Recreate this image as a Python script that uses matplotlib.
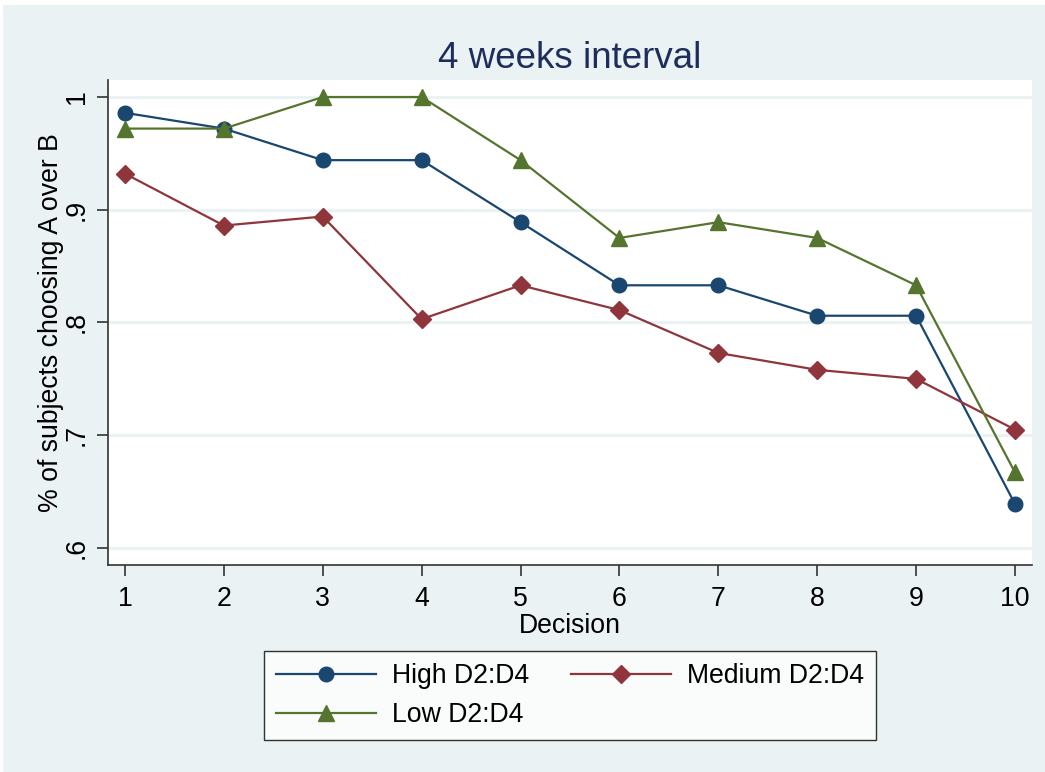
import matplotlib
matplotlib.use("Agg")
import matplotlib.pyplot as plt
from matplotlib.patches import Rectangle

plt.rcParams['font.family'] = ['Liberation Sans', 'DejaVu Sans']

decisions = [1, 2, 3, 4, 5, 6, 7, 8, 9, 10]
high = [0.986, 0.972, 0.944, 0.944, 0.889, 0.833, 0.833, 0.806, 0.806, 0.639]
medium = [0.932, 0.886, 0.894, 0.803, 0.833, 0.811, 0.773, 0.758, 0.750, 0.705]
low = [0.972, 0.972, 1.000, 1.000, 0.944, 0.875, 0.889, 0.875, 0.833, 0.667]
series_labels = ["High D2:D4", "Medium D2:D4", "Low D2:D4"]
yticks = [0.6, 0.7, 0.8, 0.9, 1.0]
ytick_labels = [".6", ".7", ".8", ".9", "1"]

BG = "#EAF2F3"
NAVY = "#1A476F"
MAROON = "#90353B"
GREEN = "#55752F"
FS = 19.2

W, H = 1045, 772
fig = plt.figure(figsize=(W / 100, H / 100), dpi=100, facecolor="white")
fig.patches.append(Rectangle((3 / W, 0), 1 - 3 / W, 1 - 5 / H, transform=fig.transFigure,
                             facecolor=BG, edgecolor="none", zorder=-10))

ax = fig.add_axes([108 / W, 1 - 565 / H, 924 / W, 485 / H])
ax.set_facecolor("white")

l1, = ax.plot(decisions, high, color=NAVY, lw=1.6, marker="o", ms=10.5, label=series_labels[0], clip_on=False, zorder=3)
l2, = ax.plot(decisions, medium, color=MAROON, lw=1.6, marker="D", ms=9.5, label=series_labels[1], clip_on=False, zorder=3)
l3, = ax.plot(decisions, low, color=GREEN, lw=1.6, marker="^", ms=11.5, label=series_labels[2], clip_on=False, zorder=3)

ax.set_xlim(0.828, 10.172)
ax.set_ylim(0.5849, 1.0151)
ax.set_xticks(decisions)
ax.set_xticklabels([str(d) for d in decisions])
ax.set_yticks(yticks)
ax.set_yticklabels(ytick_labels, rotation=90, va="center")
ax.grid(axis="y", color=BG, lw=2.2, zorder=0)
ax.set_axisbelow(True)

for s in ["top", "right"]:
    ax.spines[s].set_visible(False)
for s in ["left", "bottom"]:
    ax.spines[s].set_color("#333333")
    ax.spines[s].set_linewidth(1.2)

ax.tick_params(axis="both", direction="out", length=8, width=1.2, color="#333333",
               labelsize=FS, pad=5)
ax.tick_params(axis="x", pad=7)

ax.set_xlabel("Decision", fontsize=FS, labelpad=1)
ax.set_ylabel("% of subjects choosing A over B", fontsize=FS, labelpad=0)
ax.set_title("4 weeks interval", fontsize=26.5, color="#1E2E5C", pad=9)

leg = fig.legend(handles=[l1, l3, l2], labels=[series_labels[0], series_labels[2], series_labels[1]],
                 ncol=2, loc="upper center", bbox_to_anchor=(570 / W, 1 - 651 / H), borderaxespad=0,
                 fontsize=FS, frameon=True, fancybox=False, edgecolor="black",
                 handlelength=3.75, handletextpad=0.6, columnspacing=1.6,
                 borderpad=0.45, labelspacing=0.5)
leg.get_frame().set_linewidth(1.0)
leg.get_frame().set_facecolor("white")

fig.savefig("out.png", dpi=100, facecolor=fig.get_facecolor())
